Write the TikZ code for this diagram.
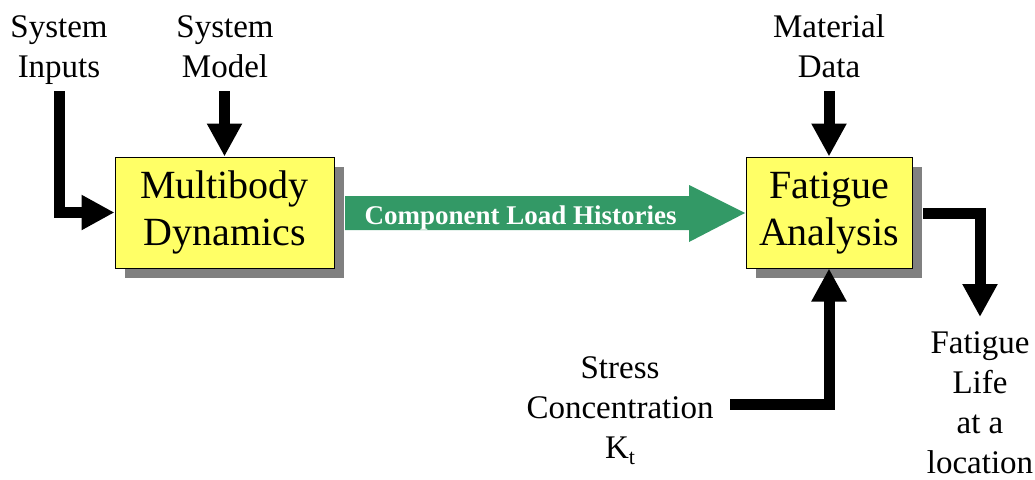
\documentclass[tikz,border=0pt]{standalone}
\usepackage{fontspec}
\setmainfont{Liberation Serif}
\usetikzlibrary{arrows.meta,shadows}
\definecolor{boxyellow}{HTML}{FFFF66}
\definecolor{shadowgray}{HTML}{808080}
\definecolor{loadgreen}{HTML}{339966}
% two centred lines, set a little below the middle of the box
\newcommand\stagetext[2]{\raisebox{-5pt}{\begin{tabular}{@{}c@{}}#1\\#2\end{tabular}}}
\begin{document}
\begin{tikzpicture}[x=1pt,y=-1pt,
  block/.style={draw=black, line width=1pt, fill=boxyellow,
    font=\fontsize{40}{47}\selectfont, inner sep=0pt,
    drop shadow={shadow xshift=10pt, shadow yshift=-10pt, fill=shadowgray, opacity=1}},
  lbl/.style={align=center, font=\fontsize{33}{40}\selectfont, inner sep=0pt, anchor=base},
  flow/.style={line width=11pt, -{Triangle[length=33pt,width=33pt]}, line join=miter}]
\useasboundingbox (0,0) rectangle (1035,479);

% load history arrow between the two stages
\fill[loadgreen] (345,196) -- (689,196) -- (689,185) -- (745,213) -- (689,242)
  -- (689,230) -- (345,230) -- cycle;
\node[font=\bfseries\fontsize{27}{30}\selectfont, text=white, anchor=base west]
  (clh) at (361,224) {Component Load Histories};

% processing stages
\node[block, minimum width=219pt, minimum height=111pt] (mbd) at (224.5,212.5) {\stagetext{Multibody}{Dynamics}};
\node[block, minimum width=166pt, minimum height=111pt] (fat) at (829,212.5) {\stagetext{Fatigue}{Analysis}};

% inputs and output labels (anchored at the baseline of their last line)
\node[lbl] (inputs) at (59,77) {System\\Inputs};
\node[lbl] (model) at (225,77) {System\\Model};
\node[lbl] (material) at (829,77) {Material\\Data};
\node[lbl] (stress) at (620,458) {Stress\\Concentration\\K\raisebox{-0.45ex}{\fontsize{22}{22}\selectfont t}};
\node[lbl] (life) at (980,473) {Fatigue\\Life\\at a\\location};

% connector ends
\coordinate (inS) at (59,91);
\coordinate (ktS) at (730,404);
\coordinate (outS) at (923,213);
\coordinate (lifeN) at (980,317);

\draw[flow] (inS) |- (mbd.west);
\draw[flow] (mbd.north |- 0,91) -- (mbd.north);
\draw[flow] (fat.north |- 0,91) -- (fat.north);
\draw[flow] (ktS) -| (fat.south);
\draw[flow] (outS) -| (lifeN);
\end{tikzpicture}
\end{document}
